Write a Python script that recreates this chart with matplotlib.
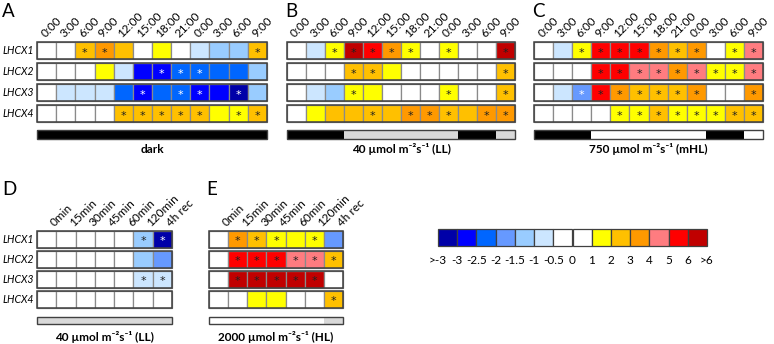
import matplotlib
matplotlib.use('Agg')
import matplotlib.pyplot as plt
from matplotlib.patches import Rectangle

plt.rcParams['font.family'] = ['Lato', 'DejaVu Sans']

# ---------------- data ----------------
genes = ['LHCX1', 'LHCX2', 'LHCX3', 'LHCX4']
time_labels = ['0:00', '3:00', '6:00', '9:00', '12:00', '15:00', '18:00',
               '21:00', '0:00', '3:00', '6:00', '9:00']
min_labels = ['0min', '15min', '30min', '45min', '60min', '120min', '4h rec']

# colour class of each cell (-6 .. 6, see legend) and significance stars
levels_A = [[0, 0, 2, 3, 2, 0, 1, 0, -1, -2, -2, 2],
            [0, 0, 0, 1, -1, -5, -5, -4, -4, -4, -4, -2],
            [0, -1, -1, -1, -4, -5, -4, -4, -5, -5, -6, -2],
            [0, 0, 0, 0, 2, 2, 2, 2, 2, 1, 1, 2]]
stars_A = [[0, 0, 1, 1, 0, 0, 0, 0, 0, 0, 0, 1],
           [0, 0, 0, 0, 0, 0, 1, 1, 1, 0, 0, 0],
           [0, 0, 0, 0, 0, 1, 0, 1, 1, 0, 1, 0],
           [0, 0, 0, 0, 1, 1, 1, 1, 1, 0, 1, 1]]

levels_B = [[0, -1, 1, 6, 5, 3, 1, 0, 1, 0, 0, 6],
            [0, 0, 0, 2, 2, 1, 0, 0, 0, 0, 0, 2],
            [0, -1, -2, 1, 1, 0, 0, 0, 1, 0, 0, 2],
            [0, 1, 2, 2, 2, 2, 3, 3, 2, 2, 3, 3]]
stars_B = [[0, 0, 1, 1, 1, 1, 1, 0, 1, 0, 0, 1],
           [0, 0, 0, 1, 1, 0, 0, 0, 0, 0, 0, 1],
           [0, 0, 0, 1, 0, 0, 0, 0, 1, 0, 0, 1],
           [0, 0, 0, 0, 1, 0, 1, 1, 1, 0, 1, 1]]

levels_C = [[0, -1, 1, 5, 5, 5, 3, 2, 3, 0, 1, 4],
            [0, 0, 0, 5, 5, 4, 4, 3, 4, 1, 1, 4],
            [0, -1, -3, 5, 3, 2, 2, 2, 3, 0, 0, 3],
            [0, 0, 0, 0, 1, 1, 2, 1, 1, 1, 2, 2]]
stars_C = [[0, 0, 1, 1, 1, 1, 1, 1, 1, 0, 1, 1],
           [0, 0, 0, 1, 1, 1, 1, 1, 1, 1, 1, 1],
           [0, 0, 1, 1, 1, 1, 1, 1, 1, 0, 0, 1],
           [0, 0, 0, 0, 1, 1, 1, 1, 1, 1, 1, 1]]

levels_D = [[0, 0, 0, 0, 0, -2, -6],
            [0, 0, 0, 0, 0, -2, -3],
            [0, 0, 0, 0, 0, -1, -1],
            [0, 0, 0, 0, 0, 0, 0]]
stars_D = [[0, 0, 0, 0, 0, 1, 1],
           [0, 0, 0, 0, 0, 0, 0],
           [0, 0, 0, 0, 0, 1, 1],
           [0, 0, 0, 0, 0, 0, 0]]

levels_E = [[0, 3, 2, 1, 1, 1, -3],
            [0, 5, 5, 5, 4, 4, 2],
            [0, 6, 6, 6, 6, 6, 0],
            [0, 0, 1, 1, 0, 0, 2]]
stars_E = [[0, 1, 1, 1, 0, 1, 0],
           [0, 1, 1, 1, 1, 1, 1],
           [0, 1, 1, 1, 1, 1, 0],
           [0, 0, 0, 0, 0, 0, 1]]

# light regime bars: D = dark, L = low light, H = high light
light_A = ['D'] * 12
light_B = ['D', 'D', 'D', 'L', 'L', 'L', 'L', 'L', 'L', 'D', 'D', 'L']
light_C = ['D', 'D', 'D', 'H', 'H', 'H', 'H', 'H', 'H', 'D', 'D', 'H']
light_D = ['L'] * 7
light_E = ['H'] * 6 + ['L']

captions = {
    'A': 'dark',
    'B': '40 µmol m⁻²s⁻¹ (LL)',
    'C': '750 µmol m⁻²s⁻¹ (mHL)',
    'D': '40 µmol m⁻²s⁻¹ (LL)',
    'E': '2000 µmol m⁻²s⁻¹ (HL)',
}

legend_levels = [-6, -5, -4, -3, -2, -1, 0, 0, 1, 2, 3, 4, 5, 6]
legend_labels = ['>-3', '-3', '-2.5', '-2', '-1.5', '-1', '-0.5', '0',
                 '1', '2', '3', '4', '5', '6', '>6']

# ---------------- style ----------------
level_colors = {-6: '#0000A8', -5: '#0000FF', -4: '#0066FF', -3: '#6699FF',
                -2: '#99CCFF', -1: '#CCE6FF', 0: '#FFFFFF', 1: '#FFFF00',
                2: '#FFC000', 3: '#FF9900', 4: '#FF7C80', 5: '#FF0000',
                6: '#C00000'}
light_colors = {'D': '#000000', 'L': '#D9D9D9', 'H': '#FFFFFF'}

W, H = 774, 344
fig = plt.figure(figsize=(W / 100, H / 100), dpi=100)


def add_ax(x0, x1, y0, y1):
    return fig.add_axes([x0 / W, 1 - y1 / H, (x1 - x0) / W, (y1 - y0) / H])


def draw_panel(box, levels, stars, light, xlabels, lab_off, show_genes,
               caption, pitch, cell_h, bar_top, bar_bot, cap_y):
    x0, x1, y0 = box
    y1 = y0 + bar_bot * pitch
    ax = add_ax(x0, x1, y0, y1)
    n = len(levels[0])
    ax.set_xlim(0, n)
    ax.set_ylim(bar_bot, 0)
    ax.axis('off')
    for i, row in enumerate(levels):
        for j, v in enumerate(row):
            ax.add_patch(Rectangle((j, i), 1, cell_h, fc=level_colors[v],
                                   ec='#8a8a8a', lw=0.9, clip_on=False))
            if stars[i][j]:
                sc = 'white' if v <= -3 else '#222222'
                ax.text(j + 0.5, i + cell_h * 0.62, '*', ha='center',
                        va='center', fontsize=8, color=sc,
                        family='DejaVu Sans')
        ax.add_patch(Rectangle((0, i), n, cell_h, fill=False,
                               ec='#404040', lw=1.1, clip_on=False))
        if show_genes:
            ax.text(-0.17, i + cell_h / 2, genes[i], ha='right', va='center',
                    fontsize=7.6, style='italic')
    for j, lab in enumerate(xlabels):
        ax.text(j + lab_off, -0.12, lab, rotation=45, ha='left',
                va='bottom', rotation_mode='anchor', fontsize=8.5)
    for j, l in enumerate(light):
        ax.add_patch(Rectangle((j, bar_top), 1, bar_bot - bar_top,
                               fc=light_colors[l], ec='none', clip_on=False))
    ax.add_patch(Rectangle((0, bar_top), n, bar_bot - bar_top, fill=False,
                           ec='#404040', lw=1.0, clip_on=False))
    ax.text(n / 2, cap_y, caption, ha='center', va='center', fontsize=8.5,
            fontweight='bold', clip_on=False)
    return ax


# panels A-C
for key, x0, x1, lev, st, li, gshow in [
        ('A', 37, 267, levels_A, stars_A, light_A, True),
        ('B', 287, 515, levels_B, stars_B, light_B, False),
        ('C', 534, 763, levels_C, stars_C, light_C, False)]:
    draw_panel((x0, x1, 42), lev, st, li, time_labels, 0.5, gshow,
               captions[key], 21, 0.83, 4.19, 4.62, 5.1)

# panels D-E
for key, x0, x1, lev, st, li, gshow in [
        ('D', 37, 172, levels_D, stars_D, light_D, True),
        ('E', 209, 343, levels_E, stars_E, light_E, False)]:
    draw_panel((x0, x1, 231), lev, st, li, min_labels, 1.0, gshow,
               captions[key], 20, 0.83, 4.3, 4.65, 5.3)

# panel letters
for letter, px, py in [('A', 2, 3), ('B', 285, 3), ('C', 532, 3),
                       ('D', 2, 181), ('E', 206, 181)]:
    fig.text(px / W, 1 - py / H, letter, ha='left', va='top', fontsize=13.5)

# colour legend
lax = add_ax(438, 707, 229, 246)
lax.set_xlim(0, len(legend_levels))
lax.set_ylim(1, 0)
lax.axis('off')
for k, v in enumerate(legend_levels):
    lax.add_patch(Rectangle((k, 0), 1, 1, fc=level_colors[v], ec='#404040',
                            lw=0.9, clip_on=False))
for k, lab in enumerate(legend_labels):
    lax.text(k, 1.85, lab, ha='center', va='center', fontsize=8.5,
             clip_on=False)

fig.savefig('out.png', dpi=100)
